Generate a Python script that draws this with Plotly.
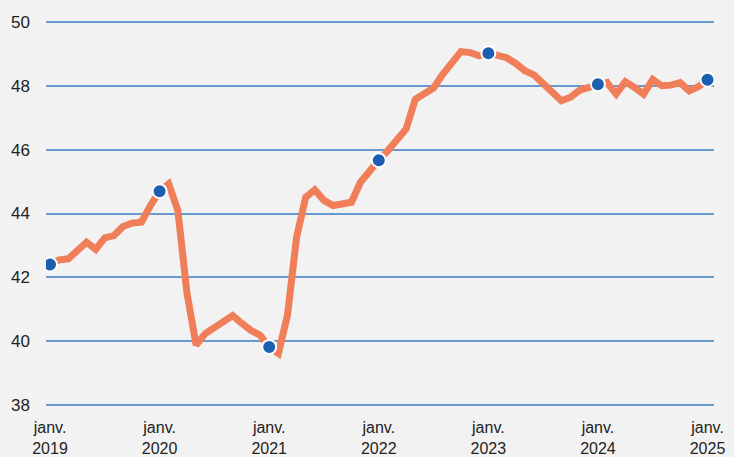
import plotly.graph_objects as go

years = [2019, 2020, 2021, 2022, 2023, 2024, 2025]
tick_labels = ["janv.<br>%d" % y for y in years]

values = [
    # 2019
    42.4, 42.55, 42.58, 42.87, 43.1, 42.88, 43.24, 43.31, 43.59, 43.7, 43.73, 44.25,
    # 2020
    44.7, 44.93, 44.09, 41.5, 39.88, 40.24, 40.42, 40.62, 40.8, 40.56, 40.34, 40.19,
    # 2021
    39.82, 39.62, 40.8, 43.26, 44.51, 44.74, 44.41, 44.25, 44.28, 44.35, 44.98, 45.34,
    # 2022
    45.67, 45.97, 46.33, 46.65, 47.58, 47.76, 47.93, 48.36, 48.73, 49.07, 49.04, 48.94,
    # 2023
    49.02, 48.94, 48.88, 48.7, 48.47, 48.34, 48.08, 47.86, 47.53, 47.64, 47.86, 47.95,
    # 2024
    48.05, 48.1, 47.74, 48.13, 47.95, 47.74, 48.2, 48.0, 48.02, 48.1, 47.84, 47.97,
    # 2025
    48.19,
]
months = list(range(len(values)))
jan_idx = [i for i in months if i % 12 == 0]
jan_vals = [values[i] for i in jan_idx]

y_ticks = [38, 40, 42, 44, 46, 48, 50]

fig = go.Figure()
fig.add_trace(go.Scatter(
    x=months, y=values, mode="lines",
    line=dict(color="#f07e58", width=7),
    hoverinfo="skip", showlegend=False,
))
fig.add_trace(go.Scatter(
    x=jan_idx, y=jan_vals, mode="markers",
    marker=dict(color="#1c5fb0", size=14, line=dict(color="white", width=2)),
    showlegend=False,
))

fig.update_layout(
    width=734, height=457,
    margin=dict(l=46, r=20, t=20, b=50, autoexpand=False),
    paper_bgcolor="#f2f2f2", plot_bgcolor="#f2f2f2",
    font=dict(family="Liberation Sans, Arial, sans-serif", size=17, color="#222222"),
    xaxis=dict(
        range=[-0.44, 72.71], tickvals=jan_idx, ticktext=tick_labels,
        showgrid=False, zeroline=False, showline=False, ticks="",
        ticklabelstandoff=9, automargin=False,
        tickfont=dict(size=16, color="#222222"),
    ),
    yaxis=dict(
        range=[37.94, 50.06], tickvals=y_ticks,
        showgrid=True, gridcolor="#6a98d0", gridwidth=1.5,
        zeroline=False, showline=False, ticks="",
        ticklabelstandoff=15, automargin=False,
        tickfont=dict(size=17, color="#222222"),
    ),
)

fig.write_html("out.html", config={"displayModeBar": False},
               post_script="document.body.style.margin='0px';")
